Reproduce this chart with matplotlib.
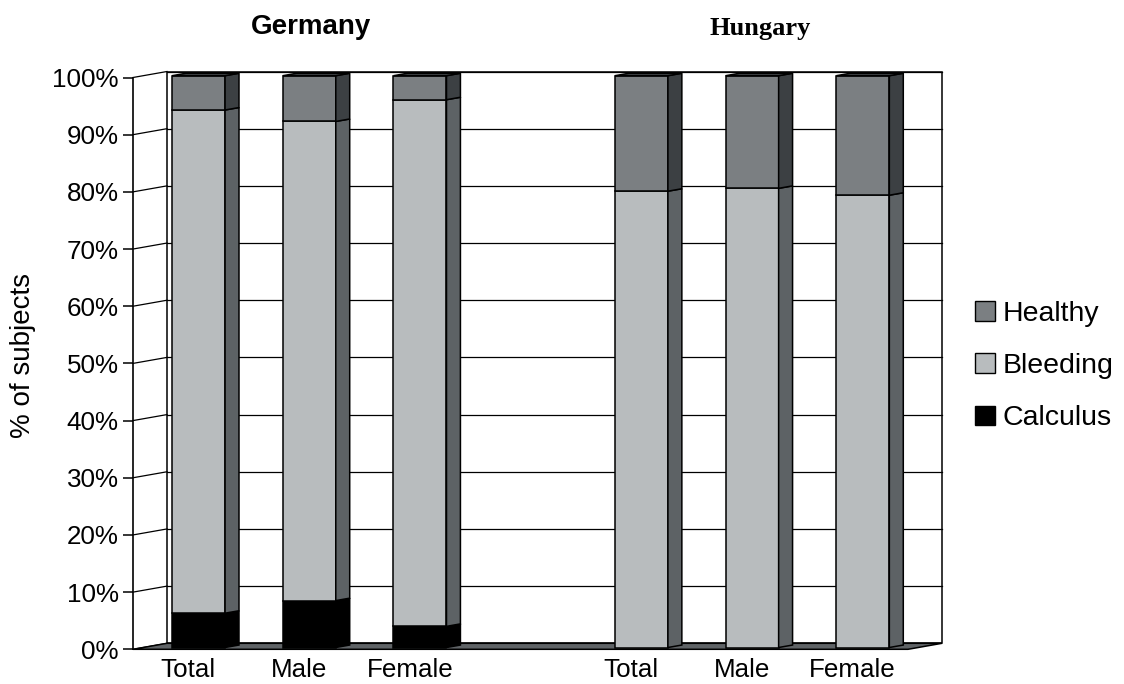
import matplotlib
matplotlib.use('Agg')
import matplotlib.pyplot as plt
from matplotlib.patches import Polygon, Patch
import numpy as np

plt.rcParams['font.family'] = ['Liberation Sans', 'DejaVu Sans']

# ---- data ----
countries = ['Germany', 'Hungary']
tick_labels = ['Total', 'Male', 'Female', 'Total', 'Male', 'Female']
positions = [0, 1, 2, 4, 5, 6]
calculus = [6.0, 8.2, 3.7, 0.0, 0.0, 0.0]
bleeding = [88.0, 83.8, 92.1, 79.8, 80.3, 79.1]
healthy = [6.0, 8.0, 4.2, 20.2, 19.7, 20.9]
series_names = ['Calculus', 'Bleeding', 'Healthy']
series_values = [calculus, bleeding, healthy]
yticks = list(range(0, 101, 10))

# ---- style ----
front_colors = ['#000000', '#b8bcbe', '#7b7f82']
side_colors = ['#000000', '#5d6265', '#3c4043']
top_color = '#3c4043'
floor_color = '#5f6366'

W, H = 1124, 684
fig = plt.figure(figsize=(W / 100, H / 100), dpi=100)
ax_left, ax_right = 133, 908
ax_bot, ax_top = 649.3, 77.5
ax = fig.add_axes([ax_left / W, 1 - ax_bot / H, (ax_right - ax_left) / W, (ax_bot - ax_top) / H])
ax.set_xlim(-0.5, 6.5)
ax.set_ylim(0, 100)

px_x = (ax_right - ax_left) / 7.0
px_y = (ax_bot - ax_top) / 100.0
DX = 34 / px_x
DY = 6 / px_y
F0 = 0.30   # bar front depth fraction
BD = 0.41   # bar depth fraction
BW = 53 / px_x
lw = 1.1

xl, xr = -0.5, 6.5
# back wall
ax.add_patch(Polygon([(xl + DX, DY), (xr + DX, DY), (xr + DX, 100 + DY), (xl + DX, 100 + DY)],
                     closed=True, facecolor='white', edgecolor='black', lw=lw, clip_on=False, zorder=1))
for v in yticks[1:]:
    ax.plot([xl + DX, xr + DX], [v + DY, v + DY], color='black', lw=0.9, clip_on=False, zorder=1.5)
# left wall diagonals
for v in yticks:
    ax.plot([xl, xl + DX], [v, v + DY], color='black', lw=0.9, clip_on=False, zorder=1.5)
# floor
ax.add_patch(Polygon([(xl, 0), (xr, 0), (xr + DX, DY), (xl + DX, DY)], closed=True,
                     facecolor=floor_color, edgecolor='black', lw=lw, clip_on=False, zorder=2))

# bars
for i, p in enumerate(positions):
    cum = 0.0
    for s, vals in enumerate(series_values):
        v = vals[i]
        if v <= 0:
            continue
        xc = p + F0 * DX
        yb = cum + F0 * DY
        ax.bar(xc, v, bottom=yb, width=BW, color=front_colors[s], edgecolor='black',
               linewidth=lw, zorder=3, clip_on=False)
        x1 = xc + BW / 2
        yt = yb + v
        ax.add_patch(Polygon([(x1, yb), (x1 + BD * DX, yb + BD * DY), (x1 + BD * DX, yt + BD * DY), (x1, yt)],
                             closed=True, facecolor=side_colors[s], edgecolor='black', lw=lw,
                             zorder=3, clip_on=False))
        cum += v
    yt = cum + F0 * DY
    x0 = p + F0 * DX - BW / 2
    x1 = p + F0 * DX + BW / 2
    ax.add_patch(Polygon([(x0, yt), (x1, yt), (x1 + BD * DX, yt + BD * DY), (x0 + BD * DX, yt + BD * DY)],
                         closed=True, facecolor=top_color, edgecolor='black', lw=lw,
                         zorder=3, clip_on=False))

# axes styling
for sp in ['top', 'right', 'bottom']:
    ax.spines[sp].set_visible(False)
ax.spines['left'].set_linewidth(1.2)
ax.spines['left'].set_zorder(4)
ax.set_yticks(yticks)
ax.set_yticklabels([f'{v}%' for v in yticks], fontsize=18.7)
ax.tick_params(axis='y', length=7.2, width=1.1, pad=3)
ax.set_xticks(positions)
ax.set_xticklabels(tick_labels, fontsize=18.7)
ax.tick_params(axis='x', length=0, pad=6)
ax.patch.set_visible(False)

# titles
fig.text(311 / W, 1 - 33.5 / H, countries[0], ha='center', va='baseline', fontsize=20, fontweight='bold')
fig.text(760 / W, 1 - 34.5 / H, countries[1], ha='center', va='baseline', fontsize=19, fontweight='bold',
         family=['Liberation Serif', 'DejaVu Serif'])
fig.text(23 / W, 1 - 356 / H, '% of subjects', rotation=90, ha='center', va='center', fontsize=20)

handles = [Patch(facecolor=front_colors[s], edgecolor='black', label=series_names[s]) for s in [2, 1, 0]]
fig.legend(handles=handles, loc='center left', bbox_to_anchor=(975 / W, 1 - 366 / H), frameon=False,
           fontsize=20.5, handlelength=0.7, handleheight=0.7, handletextpad=0.27, labelspacing=0.93,
           borderpad=0, borderaxespad=0)

fig.savefig('out.png', dpi=100)
